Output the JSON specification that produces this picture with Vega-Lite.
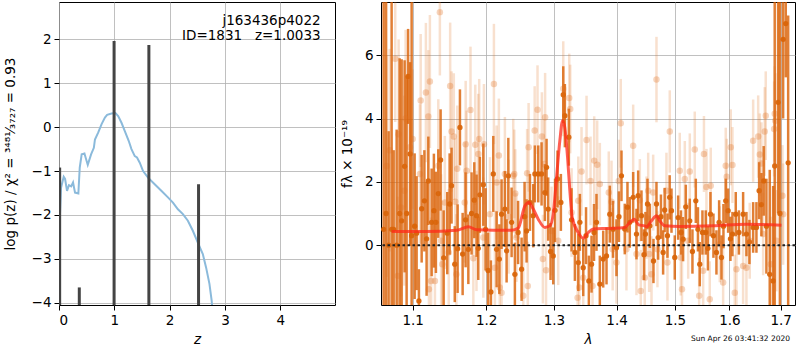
{
"$schema": "https://vega.github.io/schema/vega-lite/v6.json",
"padding": {"left": 2, "top": 1, "right": 0, "bottom": 0},
"background": "white",
"bounds": "flush",
"spacing": 46,
"config": {
  "view": {"stroke": "black", "strokeWidth": 1},
  "font": "DejaVu Sans",
  "axis": {"domain": false, "grid": true, "gridColor": "#b0b0b0", "gridWidth": 0.8, "tickColor": "black", "tickSize": 5, "tickWidth": 1, "labelFont": "DejaVu Sans", "labelFontSize": 13.5, "labelColor": "black", "titleFont": "DejaVu Sans", "titleFontSize": 13.5, "titleFontWeight": "normal", "titleColor": "black", "labelPadding": 3}
},
"datasets": {
  "blue": [
    {"z":0.005,"lp":-2.6},{"z":0.013,"lp":-2.13},{"z":0.037,"lp":-1.38},{"z":0.085,"lp":-1.13},{"z":0.11,"lp":-1.18},{"z":0.145,"lp":-1.45},{"z":0.18,"lp":-1.32},{"z":0.22,"lp":-1.35},{"z":0.254,"lp":-1.26},{"z":0.29,"lp":-1.49},{"z":0.35,"lp":-1.51},{"z":0.375,"lp":-0.92},{"z":0.41,"lp":-0.62},{"z":0.46,"lp":-0.6},{"z":0.52,"lp":-0.86},{"z":0.58,"lp":-0.62},{"z":0.63,"lp":-0.47},{"z":0.65,"lp":-0.28},{"z":0.71,"lp":-0.12},{"z":0.77,"lp":0.07},{"z":0.83,"lp":0.22},{"z":0.87,"lp":0.28},{"z":0.95,"lp":0.31},{"z":1.02,"lp":0.32},{"z":1.07,"lp":0.25},{"z":1.13,"lp":0.1},{"z":1.19,"lp":-0.09},{"z":1.26,"lp":-0.31},{"z":1.31,"lp":-0.5},{"z":1.37,"lp":-0.66},{"z":1.41,"lp":-0.69},{"z":1.46,"lp":-0.81},{"z":1.52,"lp":-1.0},{"z":1.61,"lp":-1.15},{"z":1.73,"lp":-1.3},{"z":1.85,"lp":-1.45},{"z":1.97,"lp":-1.6},{"z":2.06,"lp":-1.72},{"z":2.15,"lp":-1.87},{"z":2.24,"lp":-1.98},{"z":2.33,"lp":-2.13},{"z":2.42,"lp":-2.36},{"z":2.51,"lp":-2.63},{"z":2.6,"lp":-2.89},{"z":2.66,"lp":-3.2},{"z":2.72,"lp":-3.57},{"z":2.76,"lp":-3.95},{"z":2.79,"lp":-4.4}
  ],
  "spikes": [
    {"z":0.012,"top":-0.92},{"z":0.367,"top":-3.65},{"z":0.996,"top":1.96},{"z":1.625,"top":1.87},{"z":2.523,"top":-1.3}
  ],
  "dark": [
    {"w":1.0629,"f":0.5,"e":9},{"w":1.066,"f":1.0,"e":9},{"w":1.0692,"f":0.0,"e":3.6},{"w":1.073,"f":0.5,"e":9},{"w":1.0756,"f":0.5,"e":2.5},{"w":1.0794,"f":0.0,"e":3.65},{"w":1.0832,"f":1.0,"e":4.9},{"w":1.0858,"f":0.77,"e":5.1},{"w":1.0896,"f":2.49,"e":3.35},{"w":1.0922,"f":1.0,"e":4.35},{"w":1.0941,"f":5.33,"e":1.5},{"w":1.0967,"f":2.88,"e":2.9},{"w":1.0987,"f":0.3,"e":9},
    {"w":1.1026,"f":0.6,"e":2.3},{"w":1.1052,"f":0.38,"e":1.8},{"w":1.1082,"f":-1.76,"e":1.0},{"w":1.1118,"f":1.15,"e":1.7},{"w":1.1154,"f":1.4,"e":1.6},{"w":1.1183,"f":0.2,"e":1.8},{"w":1.1206,"f":2.03,"e":1.4},{"w":1.125,"f":0.72,"e":1.7},{"w":1.128,"f":1.09,"e":1.8},{"w":1.1307,"f":0.72,"e":1.6},{"w":1.1339,"f":1.63,"e":1.4},{"w":1.137,"f":2.69,"e":1.6},{"w":1.1411,"f":-0.4,"e":1.5},{"w":1.146,"f":0.38,"e":1.3},{"w":1.1492,"f":1.3,"e":1.6},{"w":1.1518,"f":1.88,"e":1.2},{"w":1.1562,"f":-0.6,"e":1.2},{"w":1.1601,"f":-0.11,"e":1.4},{"w":1.1633,"f":3.72,"e":1.2},{"w":1.167,"f":-0.28,"e":1.3},{"w":1.1711,"f":0.8,"e":1.5},{"w":1.1749,"f":-0.13,"e":1.1},{"w":1.1794,"f":1.0,"e":1.3},{"w":1.1832,"f":1.42,"e":1.2},{"w":1.1864,"f":0.93,"e":1.3},{"w":1.1888,"f":-0.1,"e":1.0},{"w":1.191,"f":1.59,"e":1.2},{"w":1.1959,"f":1.91,"e":1.3},{"w":1.1991,"f":0.5,"e":1.3},{"w":1.2027,"f":-0.8,"e":1.2},{"w":1.2067,"f":-1.48,"e":1.0},{"w":1.2101,"f":2.25,"e":1.2},{"w":1.2149,"f":-0.13,"e":1.2},{"w":1.2188,"f":-0.44,"e":1.1},{"w":1.222,"f":0.98,"e":1.1},{"w":1.2268,"f":1.14,"e":1.2},{"w":1.2293,"f":-0.18,"e":1.0},{"w":1.2318,"f":2.19,"e":1.2},{"w":1.2366,"f":0.72,"e":1.1},
    {"w":1.2414,"f":-0.92,"e":1.0},{"w":1.2461,"f":0.4,"e":1.0},{"w":1.2513,"f":-0.76,"e":1.0},{"w":1.2557,"f":0.9,"e":1.1},{"w":1.2587,"f":0.45,"e":1.0},{"w":1.2637,"f":1.35,"e":0.9},{"w":1.2686,"f":0.93,"e":1.0},{"w":1.2711,"f":2.25,"e":0.9},{"w":1.2762,"f":2.25,"e":0.9},{"w":1.2812,"f":2.25,"e":1.0},{"w":1.2862,"f":1.66,"e":0.9},{"w":1.2888,"f":2.46,"e":0.9},{"w":1.2913,"f":1.14,"e":1.0},{"w":1.2949,"f":-0.2,"e":0.9},{"w":1.299,"f":-0.34,"e":0.9},{"w":1.3018,"f":1.1,"e":1.0},{"w":1.3056,"f":2.09,"e":0.9},{"w":1.3108,"f":1.35,"e":0.9},{"w":1.3145,"f":4.75,"e":0.9},{"w":1.317,"f":4.09,"e":1.0},{"w":1.3232,"f":3.41,"e":0.9},{"w":1.3275,"f":0.8,"e":1.0},{"w":1.3327,"f":-0.23,"e":0.9},{"w":1.3381,"f":-0.55,"e":0.9},{"w":1.3406,"f":0.72,"e":0.9},{"w":1.3459,"f":-0.71,"e":0.9},{"w":1.3504,"f":0.3,"e":0.9},{"w":1.3549,"f":-1.13,"e":0.8},{"w":1.3592,"f":-0.6,"e":0.9},{"w":1.3632,"f":0.4,"e":0.9},{"w":1.3672,"f":0.72,"e":0.9},{"w":1.3726,"f":-1.23,"e":0.9},{"w":1.3781,"f":-0.44,"e":0.9},{"w":1.3835,"f":-0.34,"e":0.9},{"w":1.3889,"f":0.98,"e":0.9},{"w":1.3942,"f":0.5,"e":0.9},{"w":1.3999,"f":-0.08,"e":0.9},{"w":1.404,"f":0.9,"e":0.8},{"w":1.4082,"f":2.19,"e":0.8},{"w":1.4137,"f":0.51,"e":0.8},{"w":1.4182,"f":1.2,"e":0.8},{"w":1.4221,"f":0.72,"e":0.8},{"w":1.4278,"f":1.51,"e":0.8},{"w":1.4334,"f":0.35,"e":0.8},{"w":1.4363,"f":1.56,"e":0.8},{"w":1.4419,"f":0.93,"e":0.8},{"w":1.4462,"f":-0.3,"e":0.8},
    {"w":1.4487,"f":0.35,"e":0.7},{"w":1.4522,"f":1.3,"e":0.8},{"w":1.4563,"f":0.61,"e":0.7},{"w":1.4625,"f":-0.5,"e":0.7},{"w":1.4677,"f":1.3,"e":0.7},{"w":1.4706,"f":0.24,"e":0.7},{"w":1.4755,"f":0.9,"e":0.7},{"w":1.4793,"f":-0.23,"e":0.7},{"w":1.482,"f":1.11,"e":0.7},{"w":1.4869,"f":0.3,"e":0.7},{"w":1.4908,"f":1.51,"e":0.7},{"w":1.494,"f":1.09,"e":0.7},{"w":1.4998,"f":-0.39,"e":0.7},{"w":1.5058,"f":0.87,"e":0.7},{"w":1.5109,"f":0.4,"e":0.7},{"w":1.5147,"f":0.19,"e":0.7},{"w":1.5195,"f":1.21,"e":0.7},{"w":1.5267,"f":0.77,"e":0.7},{"w":1.5315,"f":-0.2,"e":0.7},{"w":1.5376,"f":1.4,"e":0.7},{"w":1.5415,"f":0.5,"e":0.7},{"w":1.5448,"f":-0.6,"e":0.7},{"w":1.5497,"f":0.4,"e":0.7},{"w":1.5558,"f":0.4,"e":0.7},{"w":1.5598,"f":-0.1,"e":0.7},{"w":1.5645,"f":0.98,"e":0.7},{"w":1.57,"f":0.3,"e":0.7},{"w":1.5756,"f":-0.23,"e":0.7},{"w":1.5806,"f":0.72,"e":0.7},{"w":1.585,"f":-0.39,"e":0.7},{"w":1.5887,"f":0.6,"e":0.7},{"w":1.593,"f":1.4,"e":0.7},{"w":1.5975,"f":1.09,"e":0.7},{"w":1.6019,"f":0.2,"e":0.7},{"w":1.6057,"f":0.35,"e":0.7},{"w":1.612,"f":0.98,"e":0.7},{"w":1.618,"f":0.4,"e":0.7},{"w":1.6261,"f":0.98,"e":0.7},{"w":1.6325,"f":0.35,"e":0.7},{"w":1.6383,"f":0.1,"e":0.7},{"w":1.6455,"f":0.56,"e":0.8},{"w":1.6519,"f":0.56,"e":0.8},{"w":1.6572,"f":1.72,"e":0.9},{"w":1.6617,"f":1.28,"e":1.0},{"w":1.6662,"f":2.03,"e":1.1},{"w":1.6715,"f":0.6,"e":1.5},{"w":1.6781,"f":-0.92,"e":3.3},{"w":1.6848,"f":-1.13,"e":3.0},{"w":1.688,"f":2.5,"e":9},{"w":1.6948,"f":4.51,"e":3.5},{"w":1.6984,"f":1.0,"e":9},{"w":1.7049,"f":6.5,"e":2.5},{"w":1.7102,"f":7.0,"e":1.7},{"w":1.7151,"f":2.6,"e":4.65}
  ],
  "light": [
    {"w":1.0667,"f":2.5,"e":3.5},{"w":1.0705,"f":3.0,"e":3.2},{"w":1.0776,"f":5.89,"e":2.0},{"w":1.0807,"f":-0.97,"e":2.5},{"w":1.0819,"f":3.5,"e":3.0},{"w":1.0849,"f":1.19,"e":2.8},{"w":1.0892,"f":1.72,"e":3.0},{"w":1.0909,"f":4.0,"e":2.8},{"w":1.0965,"f":3.09,"e":2.3},{"w":1.1,"f":3.35,"e":2.2},
    {"w":1.1095,"f":2.25,"e":2.2},{"w":1.1105,"f":4.57,"e":2.1},{"w":1.1174,"f":4.82,"e":2.2},{"w":1.1206,"f":4.06,"e":2.1},{"w":1.1214,"f":-1.39,"e":2.0},{"w":1.1227,"f":5.17,"e":2.1},{"w":1.1243,"f":-1.13,"e":2.0},{"w":1.1294,"f":-1.13,"e":1.9},{"w":1.1339,"f":2.51,"e":2.1},{"w":1.136,"f":7.36,"e":2.0},{"w":1.1377,"f":0.14,"e":2.1},{"w":1.1392,"f":-0.6,"e":2.0},{"w":1.1427,"f":1.35,"e":2.1},{"w":1.148,"f":-0.23,"e":2.0},{"w":1.1499,"f":5.03,"e":2.0},{"w":1.1518,"f":3.59,"e":1.9},{"w":1.1549,"f":3.43,"e":2.0},{"w":1.1569,"f":1.37,"e":2.0},{"w":1.1584,"f":-0.92,"e":1.9},{"w":1.1596,"f":2.41,"e":2.0},{"w":1.1699,"f":1.35,"e":1.9},{"w":1.1712,"f":3.19,"e":2.0},{"w":1.1725,"f":2.35,"e":1.9},{"w":1.1779,"f":4.27,"e":2.0},{"w":1.1819,"f":-0.41,"e":1.9},{"w":1.1846,"f":3.17,"e":1.9},{"w":1.1863,"f":0.45,"e":1.9},{"w":1.1888,"f":2.88,"e":1.9},{"w":1.1901,"f":3.35,"e":1.9},{"w":1.1959,"f":0.24,"e":1.9},{"w":1.1968,"f":3.19,"e":1.9},{"w":1.2053,"f":0.98,"e":1.8},{"w":1.211,"f":5.09,"e":1.9},{"w":1.2124,"f":-0.71,"e":1.8},{"w":1.2149,"f":1.98,"e":1.8},{"w":1.2181,"f":2.83,"e":1.8},{"w":1.2194,"f":-1.34,"e":1.8},{"w":1.222,"f":-1.5,"e":1.8},{"w":1.2268,"f":2.25,"e":1.8},{"w":1.2322,"f":0.9,"e":1.8},{"w":1.239,"f":2.19,"e":1.8},
    {"w":1.2405,"f":2.25,"e":1.4},{"w":1.242,"f":1.63,"e":1.4},{"w":1.2437,"f":0.24,"e":1.4},{"w":1.2538,"f":-1.6,"e":1.4},{"w":1.2595,"f":2.27,"e":1.4},{"w":1.2605,"f":-1.29,"e":1.4},{"w":1.2617,"f":3.09,"e":1.4},{"w":1.2708,"f":3.62,"e":1.4},{"w":1.2751,"f":4.28,"e":1.4},{"w":1.2817,"f":3.43,"e":1.4},{"w":1.2832,"f":-0.44,"e":1.4},{"w":1.2852,"f":2.56,"e":1.4},{"w":1.2866,"f":4.04,"e":1.4},{"w":1.288,"f":-0.79,"e":1.4},{"w":1.2964,"f":0.45,"e":1.4},{"w":1.3067,"f":0.14,"e":1.4},{"w":1.3145,"f":4.94,"e":1.5},{"w":1.3238,"f":4.65,"e":1.4},{"w":1.3254,"f":4.3,"e":1.4},{"w":1.3275,"f":1.03,"e":1.4},{"w":1.337,"f":-1.66,"e":1.3},{"w":1.3381,"f":1.4,"e":1.4},{"w":1.3396,"f":-1.34,"e":1.3},{"w":1.3432,"f":2.33,"e":1.4},{"w":1.3459,"f":-1.03,"e":1.3},{"w":1.3512,"f":3.32,"e":1.4},{"w":1.3576,"f":2.03,"e":1.4},{"w":1.3608,"f":-1.29,"e":1.3},{"w":1.3635,"f":2.67,"e":1.4},{"w":1.3683,"f":2.54,"e":1.4},{"w":1.3726,"f":1.93,"e":1.3},{"w":1.3872,"f":1.66,"e":1.3},{"w":1.3917,"f":1.37,"e":1.3},{"w":1.3936,"f":-0.13,"e":1.3},{"w":1.3999,"f":-0.55,"e":1.3},{"w":1.4037,"f":2.03,"e":1.3},{"w":1.407,"f":3.85,"e":1.4},{"w":1.4165,"f":-0.13,"e":1.3},{"w":1.4278,"f":3.14,"e":1.3},{"w":1.4334,"f":-0.28,"e":1.3},{"w":1.4391,"f":1.42,"e":1.3},{"w":1.4407,"f":-1.45,"e":1.3},{"w":1.4475,"f":-1.03,"e":1.3},{"w":1.4505,"f":0.87,"e":1.3},
    {"w":1.4534,"f":1.72,"e":1.2},{"w":1.4551,"f":-0.28,"e":1.2},{"w":1.4591,"f":-0.92,"e":1.2},{"w":1.462,"f":1.66,"e":1.2},{"w":1.4677,"f":5.23,"e":1.35},{"w":1.4694,"f":-0.13,"e":1.2},{"w":1.4851,"f":1.72,"e":1.2},{"w":1.4869,"f":-0.55,"e":1.2},{"w":1.491,"f":3.59,"e":1.3},{"w":1.5087,"f":2.35,"e":1.2},{"w":1.5105,"f":-0.39,"e":1.2},{"w":1.5127,"f":-1.39,"e":1.2},{"w":1.5177,"f":2.09,"e":1.2},{"w":1.5238,"f":0.14,"e":1.2},{"w":1.5267,"f":2.33,"e":1.2},{"w":1.5357,"f":3.02,"e":1.2},{"w":1.5437,"f":-1.6,"e":1.2},{"w":1.551,"f":-0.81,"e":1.2},{"w":1.5525,"f":2.88,"e":1.2},{"w":1.5571,"f":1.84,"e":1.2},{"w":1.5632,"f":-1.71,"e":1.2},{"w":1.565,"f":1.88,"e":1.2},{"w":1.5818,"f":0.03,"e":1.2},{"w":1.5881,"f":-1.18,"e":1.2},{"w":1.593,"f":2.51,"e":1.2},{"w":1.5949,"f":2.16,"e":1.2},{"w":1.6025,"f":3.09,"e":1.2},{"w":1.6057,"f":2.53,"e":1.2},{"w":1.6101,"f":-1.5,"e":1.2},{"w":1.6133,"f":-0.76,"e":1.2},{"w":1.6261,"f":-0.66,"e":1.2},{"w":1.6325,"f":-0.71,"e":1.2},{"w":1.6389,"f":0.14,"e":1.2},{"w":1.6455,"f":3.3,"e":1.3},{"w":1.6553,"f":3.43,"e":1.3},{"w":1.6585,"f":2.86,"e":1.3},{"w":1.6617,"f":2.58,"e":1.3},{"w":1.6651,"f":0.35,"e":1.3},{"w":1.6682,"f":3.59,"e":1.4},{"w":1.6702,"f":4.09,"e":1.4},{"w":1.68,"f":-0.6,"e":1.5},{"w":1.6868,"f":3.67,"e":1.5},{"w":1.688,"f":4.15,"e":1.5},{"w":1.6894,"f":3.93,"e":1.5},{"w":1.6914,"f":0.14,"e":1.6},{"w":1.7035,"f":1.56,"e":1.6},{"w":1.7049,"f":0.98,"e":1.6}
  ],
  "red": [
    {"w":1.073,"f":0.43},{"w":1.1184,"f":0.43},{"w":1.1587,"f":0.47},{"w":1.1749,"f":0.58},{"w":1.1865,"f":0.49},{"w":1.2366,"f":0.47},{"w":1.2464,"f":0.54},{"w":1.2561,"f":1.24},{"w":1.2621,"f":1.35},{"w":1.2687,"f":1.14},{"w":1.2762,"f":0.82},{"w":1.2862,"f":0.56},{"w":1.2938,"f":0.61},{"w":1.299,"f":0.98},{"w":1.3041,"f":2.14},{"w":1.3092,"f":3.3},{"w":1.3134,"f":3.93},{"w":1.3169,"f":3.72},{"w":1.3212,"f":2.77},{"w":1.3248,"f":1.72},{"w":1.3285,"f":0.87},{"w":1.338,"f":0.4},{"w":1.3459,"f":0.22},{"w":1.3539,"f":0.4},{"w":1.3619,"f":0.51},{"w":1.3863,"f":0.53},{"w":1.4137,"f":0.56},{"w":1.4221,"f":0.72},{"w":1.4295,"f":0.82},{"w":1.4373,"f":0.64},{"w":1.4476,"f":0.61},{"w":1.4505,"f":0.58},{"w":1.4591,"f":0.77},{"w":1.4678,"f":0.93},{"w":1.4735,"f":0.77},{"w":1.4822,"f":0.61},{"w":1.5087,"f":0.59},{"w":1.5695,"f":0.61},{"w":1.6325,"f":0.66},{"w":1.7015,"f":0.63}
  ]
},
"hconcat": [
  {
    "width": 276, "height": 303,
    "layer": [
      {"data": {"name": "blue"},
       "mark": {"type": "line", "color": "#8bbadb", "strokeWidth": 2, "clip": true},
       "encoding": {
         "x": {"field": "z", "type": "quantitative", "title": "z", "scale": {"domain": [0, 4.99], "nice": false, "zero": false}, "axis": {"values": [0,1,2,3,4], "format": "d", "titleFontStyle": "italic", "titlePadding": 6}},
         "y": {"field": "lp", "type": "quantitative", "title": "log p(z) / χ² = ³⁴⁸¹⁄₃₇₂₇ = 0.93", "scale": {"domain": [-4.05, 2.85], "nice": false, "zero": false}, "axis": {"values": [-4,-3,-2,-1,0,1,2], "format": "d", "titlePadding": 14}}
       }},
      {"data": {"name": "spikes"},
       "mark": {"type": "rule", "color": "#444444", "strokeWidth": 3, "clip": true},
       "encoding": {
         "x": {"field": "z", "type": "quantitative", "title": "z"},
         "y": {"field": "top", "type": "quantitative", "title": "log p(z) / χ² = ³⁴⁸¹⁄₃₇₂₇ = 0.93"},
         "y2": {"datum": -4.5}
       }},
      {"data": {"values": [{}]},
       "mark": {"type": "text", "align": "right", "baseline": "middle", "fontSize": 13.5, "color": "black", "font": "DejaVu Sans"},
       "encoding": {"x": {"datum": 4.73}, "y": {"datum": 2.416}, "text": {"value": "j163436p4022"}}},
      {"data": {"values": [{}]},
       "mark": {"type": "text", "align": "right", "baseline": "middle", "fontSize": 13.5, "color": "black", "font": "DejaVu Sans"},
       "encoding": {"x": {"datum": 4.73}, "y": {"datum": 2.075}, "text": {"value": "ID=1831\u00a0\u00a0\u00a0z=1.0033"}}}
    ]
  },
  {
    "width": 414, "height": 303,
    "title": {"text": "Sun Apr 26 03:41:32 2020", "orient": "bottom", "anchor": "end", "fontSize": 7.5, "fontWeight": "normal", "font": "DejaVu Sans", "color": "black", "dx": -6, "offset": -11},
    "layer": [
      {"data": {"name": "dark"},
       "mark": {"type": "errorbar", "color": "#d95f02", "opacity": 0.8, "thickness": 2.5, "clip": true},
       "encoding": {
         "x": {"field": "w", "type": "quantitative", "title": "λ", "scale": {"type": "log", "domain": [1.0596, 1.729], "nice": false}, "axis": {"values": [1.1,1.2,1.3,1.4,1.5,1.6,1.7], "format": ".1f", "titleFontStyle": "italic", "titlePadding": 6}},
         "y": {"field": "f", "type": "quantitative", "title": "fλ × 10⁻¹⁹", "scale": {"domain": [-1.89, 7.68], "nice": false, "zero": false}, "axis": {"values": [0,2,4,6], "format": "d", "titlePadding": 10}},
         "yError": {"field": "e"}
       }},
      {"data": {"name": "dark"},
       "mark": {"type": "circle", "color": "#d9650a", "opacity": 0.95, "size": 28, "clip": true},
       "encoding": {"x": {"field": "w", "type": "quantitative", "title": "λ"}, "y": {"field": "f", "type": "quantitative", "title": "fλ × 10⁻¹⁹"}}},
      {"data": {"name": "light"},
       "mark": {"type": "errorbar", "color": "#e07020", "opacity": 0.22, "thickness": 2.5, "clip": true},
       "encoding": {"x": {"field": "w", "type": "quantitative", "title": "λ"}, "y": {"field": "f", "type": "quantitative", "title": "fλ × 10⁻¹⁹"}, "yError": {"field": "e"}}},
      {"data": {"name": "light"},
       "mark": {"type": "circle", "color": "#e07020", "opacity": 0.3, "size": 42, "clip": true},
       "encoding": {"x": {"field": "w", "type": "quantitative", "title": "λ"}, "y": {"field": "f", "type": "quantitative", "title": "fλ × 10⁻¹⁹"}}},
      {"data": {"name": "red"},
       "mark": {"type": "line", "color": "#ff2a1a", "opacity": 0.75, "strokeWidth": 3, "interpolate": "monotone", "clip": true},
       "encoding": {"x": {"field": "w", "type": "quantitative", "title": "λ"}, "y": {"field": "f", "type": "quantitative", "title": "fλ × 10⁻¹⁹"}}},
      {"data": {"values": [{}]},
       "mark": {"type": "rule", "color": "#222222", "strokeWidth": 2, "strokeDash": [2.5, 2.5]},
       "encoding": {"y": {"datum": 0}}}
    ]
  }
]
}
